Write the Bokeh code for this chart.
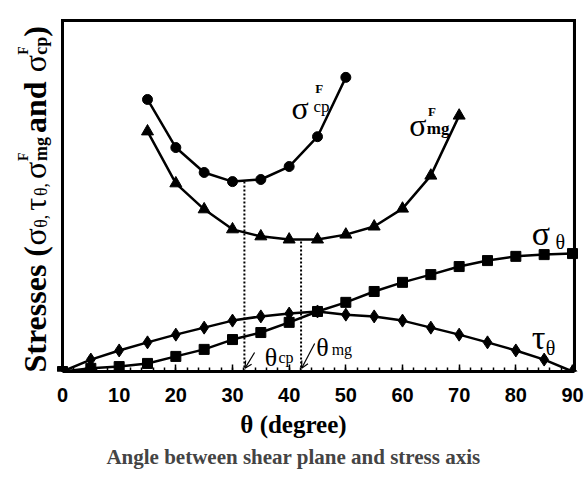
import numpy as np
from bokeh.plotting import figure
from bokeh.models import Range1d, FixedTicker, Label, Arrow, OpenHead, Title, BoxAnnotation
from bokeh.embed import file_html
from bokeh.resources import INLINE

# ---------------- data ----------------
theta_cp_x = [15, 20, 25, 30, 35, 40, 45, 50]
sigma_cp = [77.5, 63.8, 56.7, 54.1, 54.7, 58.4, 66.9, 83.8]

theta_mg_x = [15, 20, 25, 30, 35, 40, 45, 50, 55, 60, 65, 70]
sigma_mg = [68.4, 53.6, 46.2, 40.5, 38.5, 37.6, 37.6, 39.0, 41.3, 46.4, 55.8, 72.9]

theta_x = [0, 5, 10, 15, 20, 25, 30, 35, 40, 45, 50, 55, 60, 65, 70, 75, 80, 85, 90]
sigma_theta = [0, 0.9, 1.4, 2.3, 4.3, 6.3, 9.1, 11.1, 14.0, 17.1, 19.7, 22.8, 25.4,
               27.6, 29.9, 31.6, 32.8, 33.3, 33.6]
tau_theta = [0, 3.4, 6.0, 8.3, 10.5, 12.5, 14.5, 15.7, 16.5, 17.1, 16.2, 15.7, 14.5,
             12.5, 10.5, 8.3, 6.0, 3.4, 0]

theta_cp = 32.1
theta_mg = 42.1
x_ticks = [0, 10, 20, 30, 40, 50, 60, 70, 80, 90]
x_minor = list(range(0, 91, 2))
x_box_right = 90.35
y_box_top = 100.0

SERIF = "Liberation Serif"
SANS = "Liberation Sans"

# geometry (pixels) -> frame covers whole figure except bottom axis area
W, H = 586, 478
BOTTOM = 107
PX_X = 510 / 90.0          # px per x unit
PX_Y = 351 / 100.0         # px per y unit
X0_PX = 62                 # page x of x=0
x_start = -X0_PX / PX_X
x_end = 90 + (W - 572) / PX_X
y_end = 100 + 20 / PX_Y

p = figure(width=W, height=H, output_backend="svg", toolbar_location=None,
           x_range=Range1d(x_start, x_end), y_range=Range1d(0, y_end),
           min_border_left=0, min_border_right=0, min_border_top=0, min_border_bottom=BOTTOM)
p.background_fill_color = "white"
p.border_fill_color = "white"
p.xgrid.visible = False
p.ygrid.visible = False
p.yaxis.visible = False
p.outline_line_color = None

ax = p.xaxis[0]
ax.ticker = FixedTicker(ticks=x_ticks, minor_ticks=x_minor)
ax.bounds = (0, x_box_right)
ax.axis_line_width = 3
ax.major_tick_in = 7
ax.major_tick_out = 0
ax.minor_tick_in = 4
ax.minor_tick_out = 0
ax.major_tick_line_width = 1.5
ax.minor_tick_line_width = 1.5
ax.major_label_text_font = SANS
ax.major_label_text_font_style = "bold"
ax.major_label_text_font_size = "20px"
ax.major_label_text_color = "black"
ax.major_label_standoff = 16
ax.axis_label = "θ (degree)"
ax.axis_label_text_font = SERIF
ax.axis_label_text_font_style = "bold"
ax.axis_label_text_font_size = "25px"
ax.axis_label_text_color = "black"
ax.axis_label_standoff = 6

p.add_layout(Title(text="Angle between shear plane and stress axis", align="center",
                   text_font=SERIF, text_font_size="21px", text_font_style="bold",
                   standoff=5), "below")

# plot box: annotation + glyphs
p.add_layout(BoxAnnotation(left=0, right=x_box_right, bottom=0, top=y_box_top,
                           fill_color=None, fill_alpha=0, line_color="black",
                           line_alpha=1.0, line_width=3, level="overlay"))
p.multi_line(xs=[[0.0, 0.0], [0.0, x_box_right], [x_box_right, x_box_right]],
             ys=[[0.0, y_box_top], [y_box_top, y_box_top], [y_box_top, 0.0]],
             line_width=3, line_color="black")
# box edges also as long dash markers (centre of each edge)
p.scatter(x=[0.0, x_box_right / 2, x_box_right], y=[y_box_top / 2, y_box_top, y_box_top / 2],
          marker="dash", size=[y_box_top * PX_Y + 3, x_box_right * PX_X + 3, y_box_top * PX_Y + 3],
          angle=[np.pi / 2, 0.0, np.pi / 2], line_width=3, line_color="black")

# curves
p.line(theta_cp_x, sigma_cp, line_width=2.5, color="black")
p.scatter(theta_cp_x, sigma_cp, marker="circle", size=10, color="black")
p.line(theta_mg_x, sigma_mg, line_width=2.5, color="black")
p.scatter(theta_mg_x, sigma_mg, marker="triangle", size=12, color="black")
p.line(theta_x, sigma_theta, line_width=2.5, color="black")
p.scatter(theta_x, sigma_theta, marker="square", size=10, color="black")
p.line(theta_x, tau_theta, line_width=2.5, color="black")
p.scatter(theta_x, tau_theta, marker="diamond", size=13, color="black")

# dotted verticals
top_cp = float(np.interp(theta_cp, theta_cp_x, sigma_cp))
top_mg = float(np.interp(theta_mg, theta_mg_x, sigma_mg))
p.segment(x0=[theta_cp, theta_mg], y0=[0, 0], x1=[theta_cp, theta_mg], y1=[top_cp, top_mg],
          line_dash="2 2", line_width=2, color="black")

# arrows
p.add_layout(Arrow(end=OpenHead(size=7, line_width=1.2), x_start=33.9, y_start=5.4,
                   x_end=theta_cp + 0.1, y_end=0.9, line_width=1.2))
p.add_layout(Arrow(end=OpenHead(size=7, line_width=1.2), x_start=44.5, y_start=8.0,
                   x_end=theta_mg + 0.1, y_end=0.9, line_width=1.2))


def lab(text, x, y, size, style="normal", angle=0.0):
    p.add_layout(Label(x=x, y=y, text=text, text_font=SERIF, text_font_size=f"{size}px",
                       text_font_style=style, text_color="black", text_align="left",
                       text_baseline="alphabetic", angle=angle))


# curve labels
lab("σ", 40.4, 75.2, 32); lab("F", 44.6, 80.6, 13, "bold"); lab("cp", 44.3, 75.6, 17)
lab("σ", 61.2, 70.1, 32); lab("F", 64.5, 74.1, 13, "bold"); lab("mg", 64.3, 69.2, 17, "bold")
lab("σ", 82.8, 39.3, 34); lab("θ", 87.0, 36.8, 20)
lab("τ", 82.8, 9.7, 34); lab("θ", 85.3, 6.8, 20)
lab("θ", 35.7, 4.0, 26); lab("cp", 38.1, 4.0, 16)
lab("θ", 44.8, 6.8, 26); lab("mg", 47.5, 6.3, 16)

# rotated y label built from pieces
L, S = 32, 18
xb = (34 - X0_PX) / PX_X
xsub = (40 - X0_PX) / PX_X
xsup = (23 - X0_PX) / PX_X
pieces = [
    ("Stresses (", L, "bold", "base", 3.971),
    ("σ", L, "normal", "base", 0.55),
    ("θ,", S, "normal", "sub", 0.95),
    ("τ", L, "normal", "base", 0.46),
    ("θ,", S, "normal", "sub", 0.95),
    ("σ", L, "normal", "base", 0.56),
    ("mg", S, "bold", "sub", 1.55),
    ("and", L, "bold", "base", 1.90),
    ("σ", L, "normal", "base", 0.55),
    ("cp", S, "bold", "sub", 1.0),
    (")", L, "bold", "base", 0.333),
]
c = 0.0
for text, size, style, pos, em in pieces:
    ydat = (c - 1) / PX_Y
    xx = xb if pos == "base" else xsub
    lab(text, xx, ydat, size, style, angle=np.pi / 2)
    if text in ("mg", "cp"):
        lab("F", xsup, ydat, 14, "bold", angle=np.pi / 2)
    c += em * size

open("out.html", "w").write(file_html(p, INLINE))
